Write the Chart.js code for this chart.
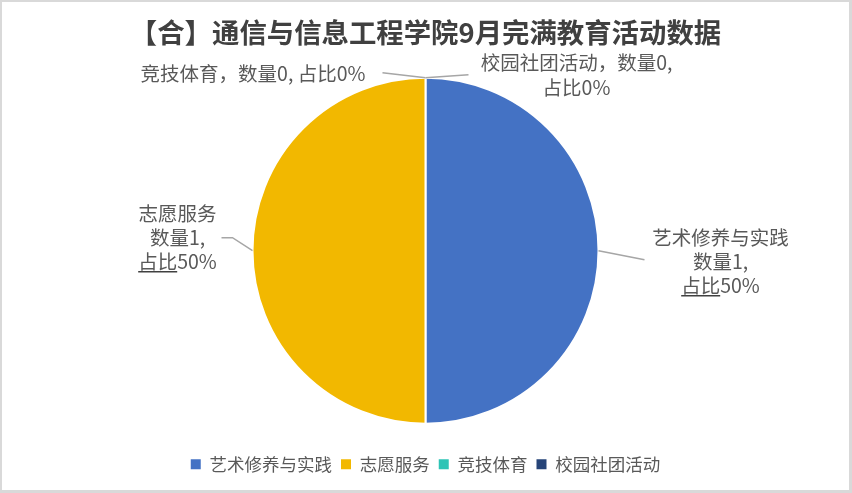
<!DOCTYPE html>
<html>
<head>
<meta charset="utf-8">
<script src="https://cdn.jsdelivr.net/npm/chart.js@4.4.1/dist/chart.umd.min.js"></script>
<style>
  html, body { margin: 0; padding: 0; background: #fff; }
  #wrap { width: 852px; height: 493px; box-sizing: border-box; border: solid #d9d9d9; border-width: 2px 3px 3px 2px; position: relative; }
</style>
</head>
<body>
<div id="wrap"><canvas id="pie-chart"></canvas></div>
<script>
const chartTitle = '【合】通信与信息工程学院9月完满教育活动数据';
const categories = ['艺术修养与实践', '志愿服务', '竞技体育', '校园社团活动'];
const counts     = [1, 1, 0, 0];
const colors     = ['#4472C4', '#F2B800', '#2EC4B6', '#264478'];

const FONT = '"Noto Sans CJK SC", "Noto Sans", sans-serif';

// how each data label is split into lines and where it sits relative to its slice edge
const labelLayout = [
  { split: (c, v, p) => [c, `数量${v},`, `占比${p}%`], leader: [[46, 9]], dx: 122, dy: -13, align: 'center', lh: 24, underline: true },
  { split: (c, v, p) => [c, `数量${v},`, `占比${p}%`], leader: [[-20, -13], [-31, -13]], dx: -75, dy: -37, align: 'center', lh: 24, underline: true },
  { split: (c, v, p) => [`${c}，数量${v}, 占比${p}%`], leader: [[-43, -5]], dx: -60, dy: -4, align: 'right', lh: 24 },
  { split: (c, v, p) => [`${c}，数量${v},`, `占比${p}%`], leader: [[43, -3]], dx: 151, dy: -15, align: 'center', lh: 25 },
];

const pieLabels = {
  id: 'pieLabels',
  afterDatasetsDraw(chart) {
    const { ctx } = chart;
    const meta = chart.getDatasetMeta(0);
    const total = counts.reduce((a, b) => a + b, 0);
    ctx.save();
    meta.data.forEach((arc, i) => {
      const { x, y, startAngle, endAngle, outerRadius } = arc.getProps(['x', 'y', 'startAngle', 'endAngle', 'outerRadius'], true);
      const mid = (startAngle + endAngle) / 2;
      const ax = x + Math.cos(mid) * outerRadius;
      const ay = y + Math.sin(mid) * outerRadius;
      const L = labelLayout[i];

      // leader line
      ctx.strokeStyle = '#a6a6a6';
      ctx.lineWidth = 1.5;
      ctx.beginPath();
      ctx.moveTo(ax, ay);
      L.leader.forEach(([px, py]) => ctx.lineTo(ax + px, ay + py));
      ctx.stroke();

      // text
      const pct = total ? Math.round(counts[i] / total * 100) : 0;
      const lines = L.split(categories[i], counts[i], pct);
      ctx.font = `19.5px ${FONT}`;
      ctx.fillStyle = '#595959';
      ctx.textAlign = L.align;
      ctx.textBaseline = 'middle';
      const tx = ax + L.dx;
      lines.forEach((s, k) => {
        const ty = ay + L.dy + k * L.lh;
        ctx.fillText(s, tx, ty);
        if (L.underline && k === lines.length - 1) {
          const w = ctx.measureText(s).width;
          const w2 = ctx.measureText(s.slice(0, 2)).width;
          const left = L.align === 'center' ? tx - w / 2 : tx;
          ctx.strokeStyle = '#404040';
          ctx.lineWidth = 1.5;
          ctx.beginPath();
          ctx.moveTo(left, ty + 10);
          ctx.lineTo(left + w2, ty + 10);
          ctx.stroke();
        }
      });
    });
    ctx.restore();
  }
};

new Chart(document.getElementById('pie-chart'), {
  type: 'pie',
  data: {
    labels: categories,
    datasets: [{
      data: counts,
      backgroundColor: colors,
      borderColor: '#fff',
      borderWidth: 2,
    }],
  },
  options: {
    responsive: true, maintainAspectRatio: false,
    animation: false,
    radius: 173,
    layout: { padding: { bottom: 7 } },
    plugins: {
      title: {
        display: true, text: chartTitle, color: '#404040',
        font: { family: FONT, size: 27.4, weight: 'bold' },
        padding: { top: 14, bottom: 6 },
      },
      legend: {
        position: 'bottom',
        labels: {
          color: '#595959', font: { family: FONT, size: 17.5 },
          boxWidth: 10, boxHeight: 10, padding: 9,
          generateLabels: chart => Chart.controllers.pie.overrides.plugins.legend.labels.generateLabels(chart)
            .map(l => Object.assign(l, { lineWidth: 0, strokeStyle: 'transparent' })),
        },
        onClick: null,
      },
      tooltip: { enabled: false },
    },
  },
  plugins: [pieLabels],
});
</script>
</body>
</html>
